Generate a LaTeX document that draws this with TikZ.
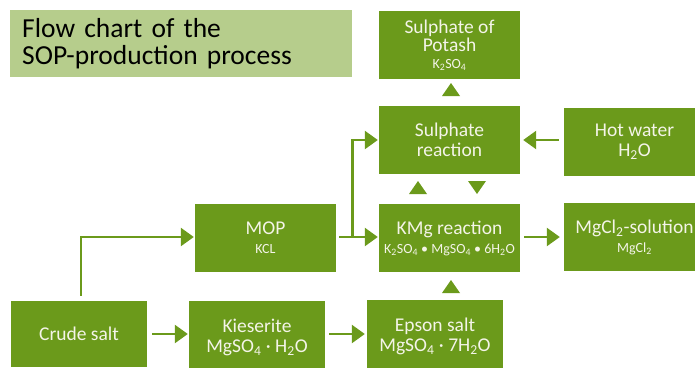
\documentclass[tikz,border=0pt]{standalone}
\usepackage{fontspec}
\setmainfont{Carlito}
\usetikzlibrary{arrows.meta, positioning, calc}
\definecolor{sopgreen}{HTML}{6B9A1B}
\definecolor{soplight}{HTML}{B6CD8C}
\definecolor{soptext}{HTML}{F4F4E8}

\tikzset{
  stage/.style={fill=sopgreen, text=soptext, minimum width=141pt, minimum height=68pt,
                inner sep=0pt, align=center, font=\fontsize{19.5}{20}\selectfont},
  lowstage/.style={stage, minimum width=136pt, minimum height=72pt},
  flow/.style={draw=sopgreen, line width=2.5pt, -{Triangle[length=13pt,width=18pt]}},
}
\newcommand{\chem}[1]{{\fontsize{14}{12}\selectfont #1}}

\begin{document}
\begin{tikzpicture}[x=1pt, y=-1pt, line join=miter]
  \useasboundingbox (0,0) rectangle (695,367);
  % title
  \node[fill=soplight, anchor=north west, minimum width=342pt, minimum height=67pt,
        text width=318pt, inner xsep=12pt, align=left,
        font=\fontsize{27.5}{27}\selectfont] (title) at (10,10)
        {Flow chart of the\\SOP-production process};
  % stages
  \node[stage] (potash) at (449.5,45)  {Sulphate of\\[-2pt]Potash\\[-3pt]\chem{K\textsubscript{2}SO\textsubscript{4}}};
  \node[stage] (sulph)  at (449.5,140) {Sulphate\\reaction};
  \node[stage] (hot)    at (634.5,142) {Hot water\\H\textsubscript{2}O};
  \node[stage] (mop)    at (265.5,238) {MOP\\[-1pt]\chem{KCL}};
  \node[stage] (kmg)    at (449.5,238) {KMg reaction\\[-1pt]\chem{K\textsubscript{2}SO\textsubscript{4} • MgSO\textsubscript{4} • 6H\textsubscript{2}O}};
  \node[stage] (mgcl)   at (634.5,237) {MgCl\textsubscript{2}-solution\\[-1pt]\chem{MgCl\textsubscript{2}}};
  \node[lowstage, minimum height=66pt] (crude) at (79,334) {Crude salt};
  \node[lowstage] (kies)  at (257,337) {Kieserite\\MgSO\textsubscript{4} · H\textsubscript{2}O};
  \node[lowstage] (epson) at (435,336) {Epson salt\\MgSO\textsubscript{4} · 7H\textsubscript{2}O};
  % connectors
  \coordinate (split) at (352.5,237);
  \draw[flow, shorten <=5pt, shorten >=1pt] (crude.east) -- (kies.west |- crude);
  \draw[flow, shorten <=4pt, shorten >=2pt] (kies.east |- crude) -- (epson.west |- crude);
  \draw[flow, shorten <=5pt, shorten >=1pt] ($(crude.north)+(2,0)$) |- (mop.west |- split);
  \draw[flow, shorten <=3pt, shorten >=1pt] (mop.east |- split) -- (kmg.west |- split);
  \draw[flow, shorten >=1pt] (split) |- (sulph.west);
  \draw[flow, shorten <=5pt, shorten >=3pt] (hot.west |- sulph) -- (sulph.east);
  \draw[flow, shorten <=4pt, shorten >=4pt] (kmg.east |- split) -- (mgcl.west |- split);
  % loose triangles
  \fill[sopgreen] (451,83) -- ++(9,13) -- ++(-18,0) -- cycle;
  \fill[sopgreen] (418,181) -- ++(9,13) -- ++(-18,0) -- cycle;
  \fill[sopgreen] (477,194) -- ++(9,-13) -- ++(-18,0) -- cycle;
  \fill[sopgreen] (451,280) -- ++(9,13) -- ++(-18,0) -- cycle;
\end{tikzpicture}
\end{document}
